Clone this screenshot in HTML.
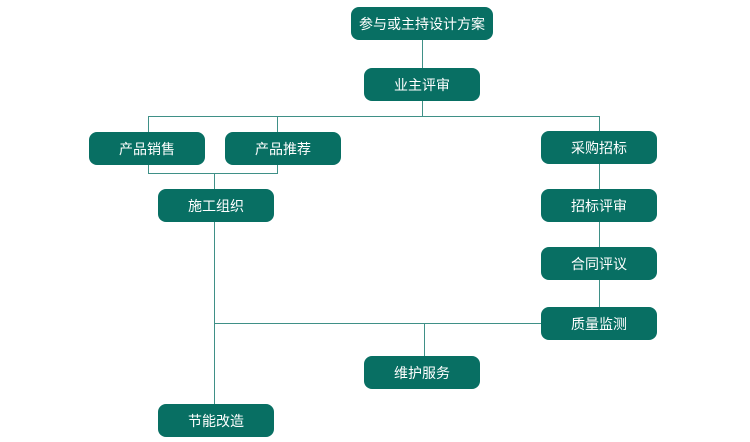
<!DOCTYPE html>
<html><head><meta charset="utf-8"><style>
body{margin:0;width:750px;height:442px;background:#fff;position:relative;overflow:hidden;font-family:"Liberation Sans","Noto Sans CJK SC",sans-serif}
.b{position:absolute;background:#086f63;color:#fff;border-radius:8px;font-size:14px;display:flex;align-items:center;justify-content:center;height:33px;width:116px}
svg{position:absolute;left:0;top:0}
</style></head><body>
<svg width="750" height="442"><g stroke="#3f9087" stroke-width="1" fill="none">
<path d="M422.5 40V68M422.5 101V116.5M148.5 116.5H599.5M148.5 116V132M277.5 116V132M599.5 116V131"/>
<path d="M148.5 165V173.5H277.5V165M214.5 173V189M214.5 222V404"/>
<path d="M599.5 164V189M599.5 222V247M599.5 280V307M214 323.5H541M424.5 323V356"/>
</g></svg>
<div class="b" style="left:351px;top:7px;width:142px">参与或主持设计方案</div>
<div class="b" style="left:364px;top:68px">业主评审</div>
<div class="b" style="left:89px;top:132px">产品销售</div>
<div class="b" style="left:225px;top:132px">产品推荐</div>
<div class="b" style="left:158px;top:189px">施工组织</div>
<div class="b" style="left:158px;top:404px">节能改造</div>
<div class="b" style="left:541px;top:131px">采购招标</div>
<div class="b" style="left:541px;top:189px">招标评审</div>
<div class="b" style="left:541px;top:247px">合同评议</div>
<div class="b" style="left:541px;top:307px">质量监测</div>
<div class="b" style="left:364px;top:356px">维护服务</div>
</body></html>
